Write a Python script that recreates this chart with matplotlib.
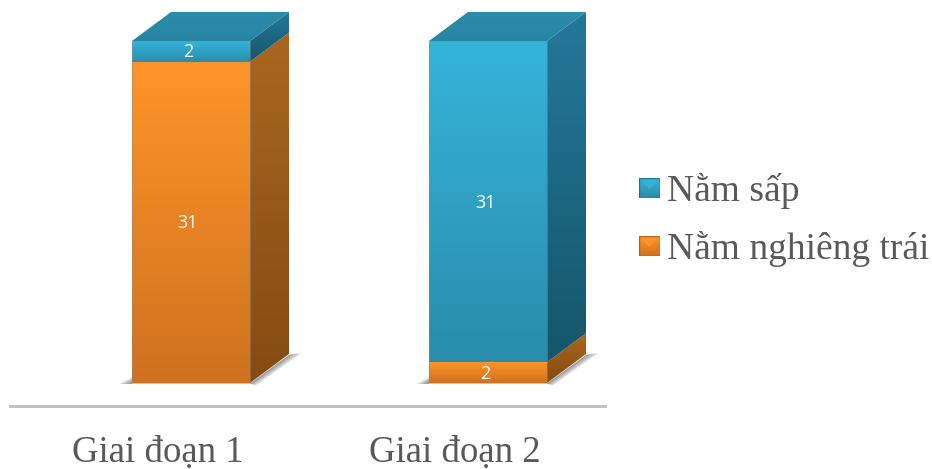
import numpy as np
import matplotlib
matplotlib.use('Agg')
import matplotlib.pyplot as plt
from matplotlib.patches import Polygon, Rectangle
from matplotlib.colors import LinearSegmentedColormap

stages = ['Giai đoạn 1', 'Giai đoạn 2']
nam_nghieng_trai = [31, 2]
nam_sap = [2, 31]
legend_labels = ['Nằm sấp', 'Nằm nghiêng trái']

W, H = 932, 469
px_per_stage = 297.0
px_per_unit = 342.0 / 33
x0_px, y0_px = 191.0, 383.0   # where stage 0 / value 0 sit, from top left
bar_w = 118.0 / px_per_stage
dx = 39.0 / px_per_stage
dy = 29.0 / px_per_unit

BLUE = {'front': ('#35b4da', '#2a8cab'), 'side': ('#24789a', '#15566a'), 'top': ('#2a8dab', '#2785a2')}
ORANGE = {'front': ('#ff9529', '#cf711f'), 'side': ('#aa661f', '#854b12'), 'top': ('#e08a2c', '#c9761f')}
SERIF = 'Liberation Serif'
TEXT = '#595959'

fig = plt.figure(figsize=(W / 100, H / 100), dpi=100)
ax = fig.add_axes([0, 0, 1, 1])


def gradient(pts, top, bottom, z):
    pts = np.array(pts)
    cmap = LinearSegmentedColormap.from_list('g', [top, bottom])
    im = ax.imshow(np.linspace(0, 1, 128).reshape(-1, 1), cmap=cmap, aspect='auto', zorder=z,
                   extent=(pts[:, 0].min(), pts[:, 0].max(), pts[:, 1].min(), pts[:, 1].max()),
                   origin='upper', interpolation='bilinear')
    im.set_clip_path(Polygon(pts, closed=True, transform=ax.transData))


def box(x, y0, y1, col, z, with_top):
    l, r = x - bar_w / 2, x + bar_w / 2
    gradient([(r, y0), (r + dx, y0 + dy), (r + dx, y1 + dy), (r, y1)], *col['side'], z)
    gradient([(l, y0), (r, y0), (r, y1), (l, y1)], *col['front'], z + 0.1)
    if with_top:
        gradient([(l, y1), (r, y1), (r + dx, y1 + dy), (l + dx, y1 + dy)], *col['top'], z + 0.2)


def shadow(x):
    # soft ground shadow on both sides of the column base
    l, r = x - bar_w / 2, x + bar_w / 2
    for s in np.linspace(1, 0.2, 6):
        ax.add_patch(Polygon([(l - s * 13 / px_per_stage, -0.05), (l, -0.05), (l, 0.6 * s)],
                             closed=True, fc='#444444', ec='none', alpha=0.12, zorder=1))
        ax.add_patch(Polygon([(r, -0.05), (r + dx, dy - 0.1), (r + dx + s * 13 / px_per_stage, dy + 0.1 * s),
                              (r + 6 * s / px_per_stage, -0.25 * s)],
                             closed=True, fc='#444444', ec='none', alpha=0.12, zorder=1))


def value_label(x, y, value):
    ax.annotate(str(value), (x, y), xytext=(-3, -1), textcoords='offset pixels', color='white',
                ha='center', va='center', family='Open Sans', fontsize=13, zorder=6)


for i, stage in enumerate(stages):
    shadow(i)
    left, prone = nam_nghieng_trai[i], nam_sap[i]
    box(i, 0, left, ORANGE, 2, False)
    box(i, left, left + prone, BLUE, 3, True)
    ax.add_patch(Rectangle((i - bar_w / 2, 0), bar_w, left + prone, fc='none', ec='#8c8c8c',
                           lw=0.6, alpha=0.6, zorder=4))
    value_label(i, left / 2, left)
    value_label(i, left + prone / 2, prone)
    ax.text(i - 33 / px_per_stage, -(453 - y0_px) / px_per_unit, stage,
            color=TEXT, ha='center', va='center', family=SERIF, fontsize=26.5)

ax.set_xlim(-x0_px / px_per_stage, (W - x0_px) / px_per_stage)
ax.set_ylim(-(H - y0_px) / px_per_unit, y0_px / px_per_unit)
ax.axis('off')

# baseline under the columns
fig.add_artist(plt.Line2D([10 / W, 605 / W], [1 - 406 / H, 1 - 406 / H], color='#bfbfbf', lw=2))

# legend swatches and labels
for label, col, y in zip(legend_labels, [BLUE, ORANGE], [188, 246]):
    sw = fig.add_axes([639 / W, 1 - (y + 10) / H, 21 / W, 20 / H])
    sw.imshow(np.linspace(0, 1, 64).reshape(-1, 1), aspect='auto', extent=(0, 1, 0, 1),
              cmap=LinearSegmentedColormap.from_list('s', [col['front'][0], col['front'][1]]))
    sw.add_patch(Polygon([(0.05, 0.95), (0.95, 0.95), (0.5, 0.45)], fc=col['front'][0], ec='none', alpha=0.9))
    sw.add_patch(Rectangle((0, 0), 1, 1, fc='none', ec=col['side'][1], lw=1, alpha=0.6))
    sw.set_xlim(0, 1)
    sw.set_ylim(0, 1)
    sw.axis('off')
    fig.text(667 / W, 1 - (y + 3) / H, label, color=TEXT, ha='left', va='center', family=SERIF, fontsize=27)

fig.savefig('out.png', dpi=100)
